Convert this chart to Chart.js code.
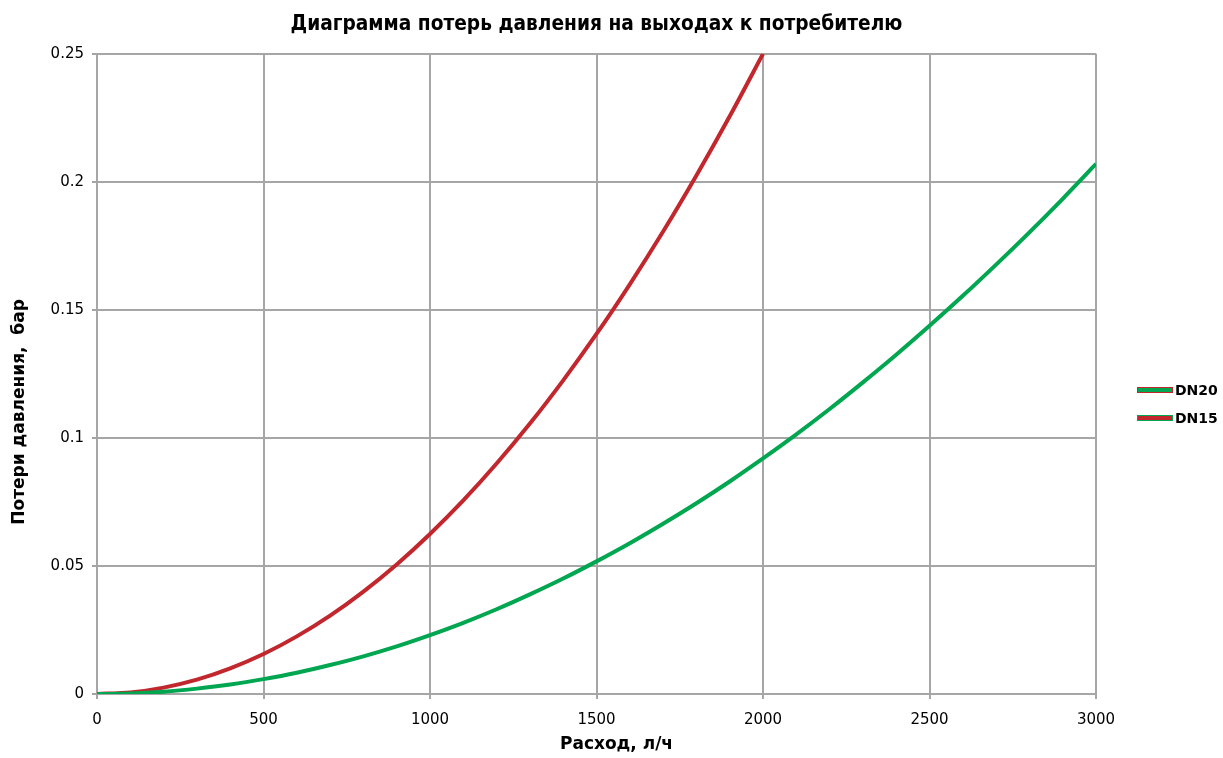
<!DOCTYPE html>
<html lang="ru">
<head>
<meta charset="UTF-8">
<title>Потери давления</title>
<script src="https://cdn.jsdelivr.net/npm/chart.js"></script>
<style>
  html, body { margin: 0; padding: 0; background: #fff; }
  #wrap { width: 1223px; height: 758px; }
</style>
</head>
<body>
<div id="wrap"><canvas id="grafico"></canvas></div>
<script>
// расход, л/ч
const flowDN15 = [0, 100, 200, 300, 400, 500, 600, 700, 800, 900, 1000,
  1100, 1200, 1300, 1400, 1500, 1600, 1700, 1800, 1900, 2000];
const lossDN15 = [0, 0.0006, 0.0025, 0.0056, 0.010, 0.0156, 0.0225, 0.0306, 0.040, 0.0506, 0.0625,
  0.0756, 0.090, 0.1056, 0.1225, 0.1406, 0.160, 0.1806, 0.2025, 0.2256, 0.250];

const flowDN20 = [0, 100, 200, 300, 400, 500, 600, 700, 800, 900, 1000,
  1100, 1200, 1300, 1400, 1500, 1600, 1700, 1800, 1900, 2000,
  2100, 2200, 2300, 2400, 2500, 2600, 2700, 2800, 2900, 3000];
const lossDN20 = [0, 0.0002, 0.0009, 0.0021, 0.0037, 0.0058, 0.0083, 0.0113, 0.0147, 0.0186, 0.023,
  0.0278, 0.0331, 0.0389, 0.0451, 0.0518, 0.0589, 0.0665, 0.0745, 0.083, 0.092,
  0.1014, 0.1113, 0.1217, 0.1325, 0.1438, 0.1555, 0.1677, 0.1803, 0.1934, 0.207];

const xTickLabels = ['0', '500', '1000', '1500', '2000', '2500', '3000'];
const yTickLabels = ['0', '0.05', '0.1', '0.15', '0.2', '0.25'];

const RED = '#c1272d';
const GREEN = '#00a650';
const GRID = '#a6a6a6';
const BOLD_FONT = 'bold 17px "DejaVu Sans", sans-serif';

function toPoints(xs, ys) {
  return xs.map((x, i) => ({ x: x, y: ys[i] }));
}

// подписи осей и легенда справа
const extras = {
  id: 'extras',
  afterDraw(chart) {
    const c = chart.ctx;
    const a = chart.chartArea;
    c.save();
    c.fillStyle = '#000';
    c.font = BOLD_FONT;
    c.textAlign = 'center';
    c.textBaseline = 'middle';
    c.fillText('Расход, л/ч', (a.left + a.right) / 2 + 20, 745);

    c.save();
    c.translate(20, (a.top + a.bottom) / 2 + 38);
    c.rotate(-Math.PI / 2);
    c.fillText('Потери давления,  бар', 0, 0);
    c.restore();

    // у DN20 зелёная полоса с красной каймой, у DN15 наоборот
    const ds = chart.data.datasets;
    c.font = 'bold 14px "DejaVu Sans", sans-serif';
    c.textAlign = 'left';
    ds.forEach(function (d, i) {
      const y = 390 + i * 28;
      const x = a.right + 41;
      c.fillStyle = ds[1 - i].borderColor;
      c.fillRect(x, y - 3, 36, 6);
      c.fillStyle = d.borderColor;
      c.fillRect(x + 1, y - 2, 34, 4);
      c.fillStyle = '#000';
      c.fillText(d.label, x + 38, y + 1);
    });
    c.restore();
  }
};

const dados = {
  datasets: [
    {
      label: 'DN20',
      data: toPoints(flowDN20, lossDN20),
      borderColor: GREEN,
      backgroundColor: GREEN,
      borderWidth: 4,
      pointRadius: 0,
      tension: 0.3,
      fill: false
    },
    {
      label: 'DN15',
      data: toPoints(flowDN15, lossDN15),
      borderColor: RED,
      backgroundColor: RED,
      borderWidth: 4,
      pointRadius: 0,
      tension: 0.3,
      fill: false
    }
  ]
};

const config = {
  type: 'line',
  data: dados,
  options: {
    responsive: true,
    maintainAspectRatio: false,
    animation: false,
    layout: { padding: { left: 0, right: 127, top: 0, bottom: 0 } },
    plugins: {
      title: {
        display: true,
        text: 'Диаграмма потерь давления на выходах к потребителю',
        color: '#000',
        fullSize: false,
        font: { family: '"DejaVu Sans Condensed", "DejaVu Sans", sans-serif', size: 20.7, weight: 'bold' },
        padding: { top: 12, bottom: 17 }
      },
      legend: { display: false },
      tooltip: { enabled: false }
    },
    scales: {
      x: {
        type: 'linear',
        min: 0,
        max: 3000,
        afterFit: function (scale) { scale.height = 64; },
        ticks: {
          stepSize: 500,
          color: '#000',
          padding: 12,
          maxRotation: 0,
          font: { family: '"DejaVu Sans", sans-serif', size: 15 },
          callback: function (value, index) { return xTickLabels[index]; }
        },
        grid: { color: GRID, lineWidth: 2, tickLength: 5, tickColor: GRID },
        border: { color: GRID, width: 2 }
      },
      y: {
        min: 0,
        max: 0.25,
        afterFit: function (scale) { scale.width = 97; },
        ticks: {
          stepSize: 0.05,
          color: '#000',
          padding: 8,
          font: { family: '"DejaVu Sans", sans-serif', size: 15 },
          callback: function (value, index) { return yTickLabels[index]; }
        },
        grid: { color: GRID, lineWidth: 2, tickLength: 5, tickColor: GRID },
        border: { color: GRID, width: 2 }
      }
    }
  },
  plugins: [extras]
};

let ctx = document.getElementById('grafico').getContext('2d');
let myChart = new Chart(ctx, config);
</script>
</body>
</html>
